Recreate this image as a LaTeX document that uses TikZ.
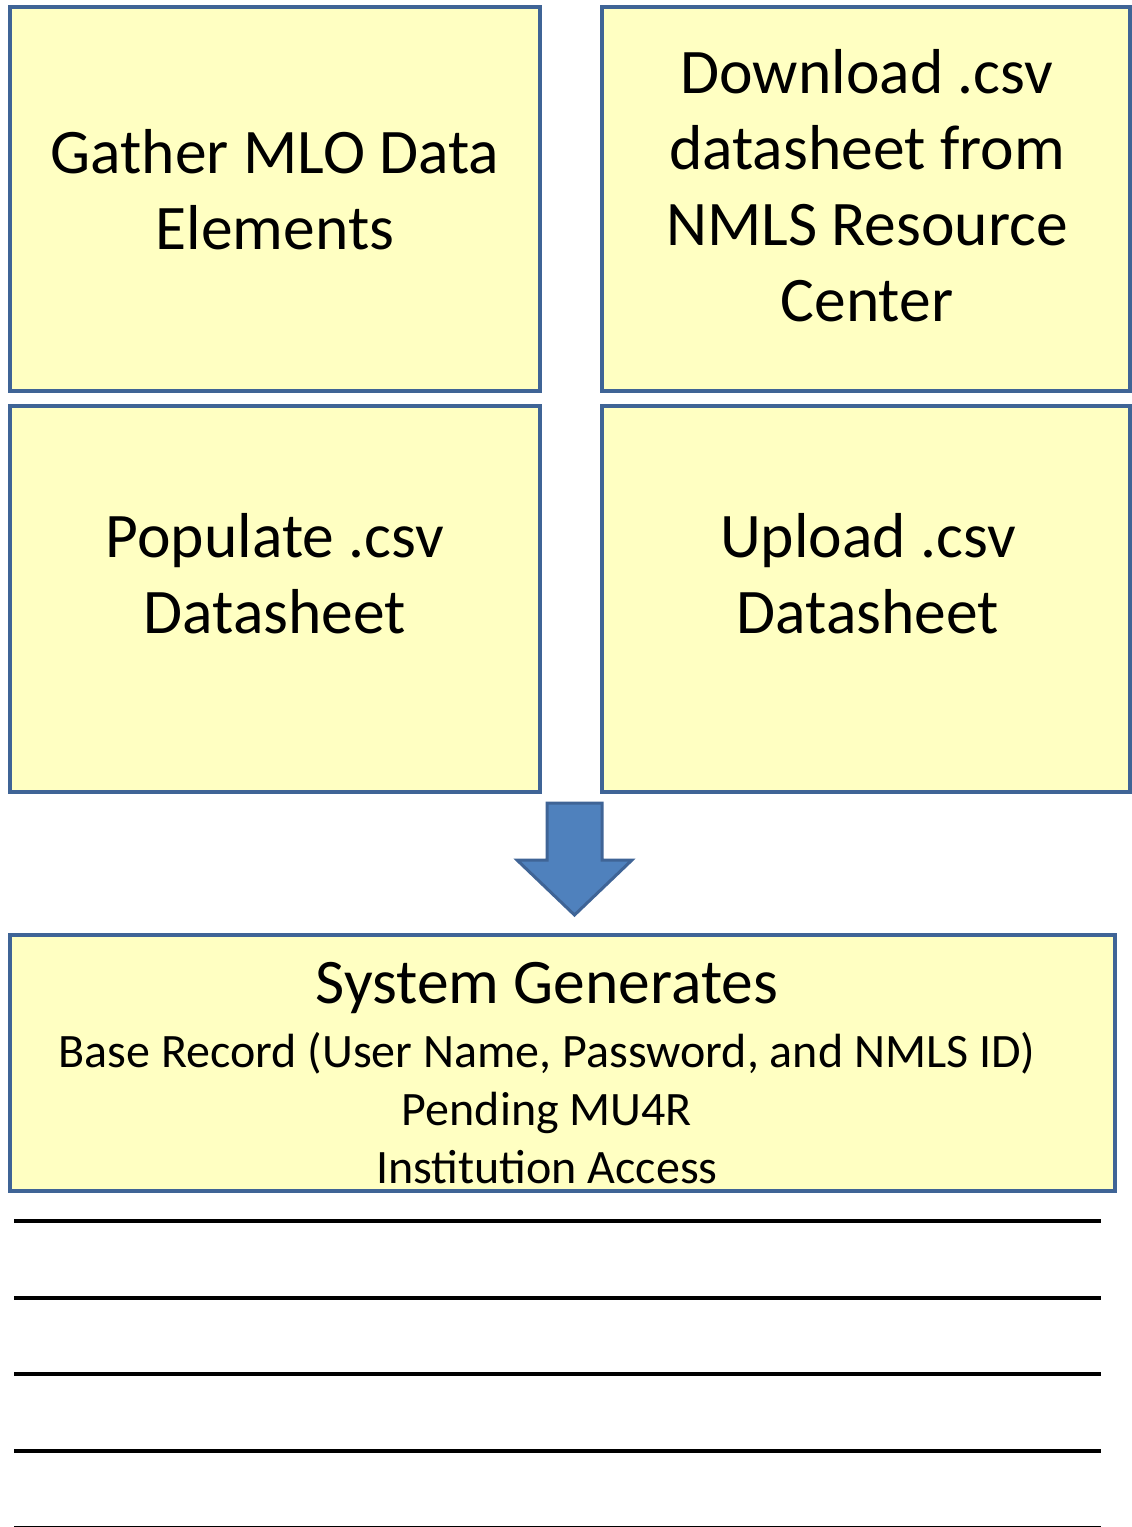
\documentclass[tikz,border=0pt]{standalone}
\usepackage{fontspec}
\setmainfont{Carlito}
\definecolor{boxfill}{HTML}{FFFFC2}
\definecolor{boxline}{HTML}{3F6496}
\definecolor{arrowfill}{HTML}{4F81BD}

\begin{document}
\begin{tikzpicture}[x=1pt,y=-1pt,
    box/.style={draw=boxline,fill=boxfill,line width=4.5pt,rectangle,inner sep=0pt},
    bigtext/.style={align=center,font=\fontsize{63.5}{76}\selectfont},
    smalltext/.style={align=center,font=\fontsize{48}{58}\selectfont},
    rule/.style={line width=4pt}]
      \useasboundingbox (0,0) rectangle (1132,1527);

      \node[box,minimum width=530pt,minimum height=384pt] (gather) at (275,199) {};
      \node[box,minimum width=528pt,minimum height=384pt] (download) at (866,199) {};
      \node[box,minimum width=530pt,minimum height=386pt] (populate) at (275,599) {};
      \node[box,minimum width=528pt,minimum height=386pt] (upload) at (866,599) {};
      \node[box,minimum width=1105pt,minimum height=256pt] (system) at (562.5,1063) {};

      \node[bigtext] (gathertxt) at (275,190) {Gather MLO Data\\Elements};
      \node[bigtext] (downloadtxt) at (867,186) {Download .csv\\datasheet from\\NMLS Resource\\Center};
      \node[bigtext] (populatetxt) at (275,574) {Populate .csv\\Datasheet};
      \node[bigtext] (uploadtxt) at (868,574) {Upload .csv\\Datasheet};
      \node[bigtext] (systemtxt) at (547,988) {System Generates};
      \node[smalltext] (recordtxt) at (547,1108) {Base Record (User Name, Password, and NMLS ID)\\Pending MU4R\\Institution Access};

      % block arrow between the boxes and the system box
      \draw[draw=boxline,fill=arrowfill,line width=3pt,line join=miter]
        (547,803) -- (602,803) -- (602,860) -- (632,860) -- (574.5,915)
        -- (517,860) -- (547,860) -- cycle;

      \coordinate (r1a) at (14,1221); \coordinate (r1b) at (1101,1221);
      \coordinate (r2a) at (14,1298); \coordinate (r2b) at (1101,1298);
      \coordinate (r3a) at (14,1374); \coordinate (r3b) at (1101,1374);
      \coordinate (r4a) at (14,1451); \coordinate (r4b) at (1101,1451);
      \coordinate (r5a) at (14,1526.5); \coordinate (r5b) at (1101,1526.5);
      \draw[rule] (r1a) -- (r1b);
      \draw[rule] (r2a) -- (r2b);
      \draw[rule] (r3a) -- (r3b);
      \draw[rule] (r4a) -- (r4b);
      \draw[line width=2pt] (r5a) -- (r5b);
    \end{tikzpicture}
\end{document}
